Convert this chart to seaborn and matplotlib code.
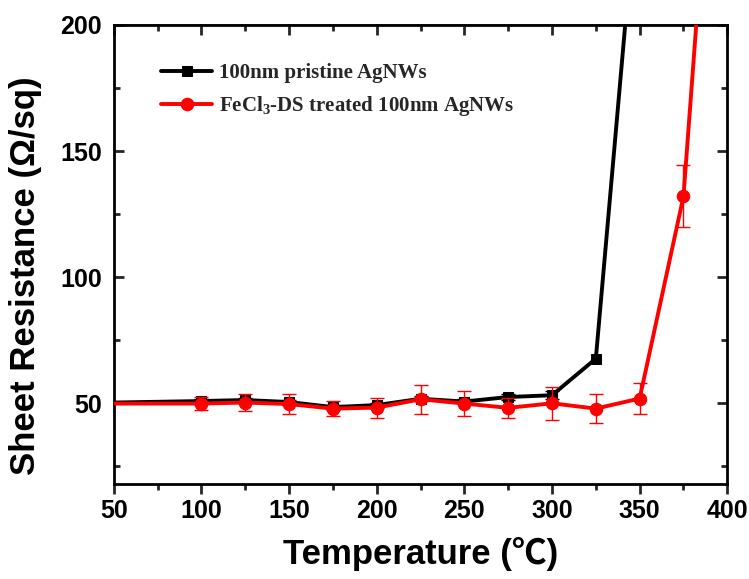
import matplotlib
matplotlib.use("Agg")
import matplotlib.pyplot as plt
import seaborn as sns
import numpy as np
import pandas as pd
from matplotlib.ticker import MultipleLocator

# ---- data ----
temp_pristine = [50, 100, 125, 150, 175, 200, 225, 250, 275, 300, 325, 350]
res_pristine = [50.3, 50.9, 51.3, 50.5, 48.5, 49.3, 51.8, 50.7, 52.5, 53.2, 67.7, 265]
err_pristine = [0, 1.0, 1.0, 1.0, 1.0, 1.0, 1.0, 1.0, 1.0, 1.5, 0, 0]

temp_treated = [50, 100, 125, 150, 175, 200, 225, 250, 275, 300, 325, 350, 375, 400]
res_treated = [49.9, 49.9, 50.3, 49.7, 47.9, 48.3, 51.6, 49.9, 48.2, 50.0, 47.9, 51.9, 132.0, 365]
err_treated = [0, 2.7, 3.2, 4.0, 3.0, 4.0, 5.8, 5.0, 4.0, 6.6, 5.6, 6.2, 12.3, 0]

label_pristine = "100nm pristine AgNWs"
label_treated = "FeCl$_3$-DS treated 100nm AgNWs"

sns.set_theme(style="white")
plt.rcParams['font.family'] = ['Liberation Sans', 'DejaVu Sans']
plt.rcParams['mathtext.fontset'] = 'custom'
plt.rcParams['mathtext.rm'] = 'Liberation Serif:bold'
plt.rcParams['mathtext.it'] = 'Liberation Serif:bold'
plt.rcParams['mathtext.bf'] = 'Liberation Serif:bold'

fig = plt.figure(figsize=(7.49, 5.79), dpi=100)
ax = fig.add_axes([0.152, 0.164, 0.819, 0.793])

df_p = pd.DataFrame({"T": temp_pristine, "R": res_pristine})
df_t = pd.DataFrame({"T": temp_treated, "R": res_treated})

ax.errorbar(temp_pristine[1:-2], res_pristine[1:-2], yerr=err_pristine[1:-2], fmt='none',
            ecolor='black', elinewidth=1, capsize=5, capthick=1, zorder=2)
ax.errorbar(temp_treated[1:-1], res_treated[1:-1], yerr=err_treated[1:-1], fmt='none',
            ecolor='red', elinewidth=1, capsize=5, capthick=1, zorder=4)

sns.lineplot(data=df_p, x="T", y="R", ax=ax, color='black', lw=2.8, marker='s',
             markersize=7.5, markeredgecolor='black', markevery=list(range(1, len(temp_pristine))),
             label=label_pristine, zorder=3)
sns.lineplot(data=df_t, x="T", y="R", ax=ax, color='red', lw=2.8, marker='o',
             markersize=9, markeredgecolor='red', markevery=list(range(1, len(temp_treated))),
             label=label_treated, zorder=5)

ax.set_xlim(50, 400)
ax.set_ylim(18, 200)
ax.xaxis.set_major_locator(MultipleLocator(50))
ax.xaxis.set_minor_locator(MultipleLocator(25))
ax.yaxis.set_major_locator(MultipleLocator(50))
ax.yaxis.set_minor_locator(MultipleLocator(25))
ax.set_yticks([50, 100, 150, 200])

for s in ax.spines.values():
    s.set_linewidth(2.0)
    s.set_color('black')

ax.tick_params(axis='x', which='both', direction='out', bottom=True, top=False, width=2.0)
ax.tick_params(axis='x', which='major', length=7)
ax.tick_params(axis='x', which='minor', length=4)
ax.tick_params(axis='y', which='both', direction='in', left=True, right=True, width=2.0)
ax.tick_params(axis='y', which='major', length=7)
ax.tick_params(axis='y', which='minor', length=4)
ax2 = ax.secondary_xaxis('top')
ax2.xaxis.set_major_locator(MultipleLocator(50))
ax2.xaxis.set_minor_locator(MultipleLocator(25))
ax2.tick_params(axis='x', which='both', direction='in', width=2.0, labeltop=False)
ax2.tick_params(axis='x', which='major', length=7)
ax2.tick_params(axis='x', which='minor', length=4)

ax.tick_params(axis='x', which='major', labelsize=18, pad=4)
ax.tick_params(axis='y', which='major', labelsize=18, pad=8.5)
for lab in ax.get_xticklabels() + ax.get_yticklabels():
    lab.set_fontweight('bold')
    lab.set_color('black')

ax.set_xlabel("Temperature (\u2103)", fontsize=25, fontweight='bold', color='black',
              family=['Liberation Sans', 'Noto Sans CJK SC', 'DejaVu Sans'], labelpad=10)
ax.set_ylabel("Sheet Resistance (\u03a9/sq)", fontsize=25, fontweight='bold', color='black')
ax.yaxis.set_label_coords(-0.117, 0.453)

leg = ax.legend(loc='upper left', bbox_to_anchor=(0.047, 0.957), frameon=False,
                prop={'family': 'Liberation Serif', 'weight': 'bold', 'size': 15},
                handlelength=2.45, handletextpad=0.3, labelspacing=0.5)

ax.grid(False)
fig.savefig("out.png", dpi=100)
